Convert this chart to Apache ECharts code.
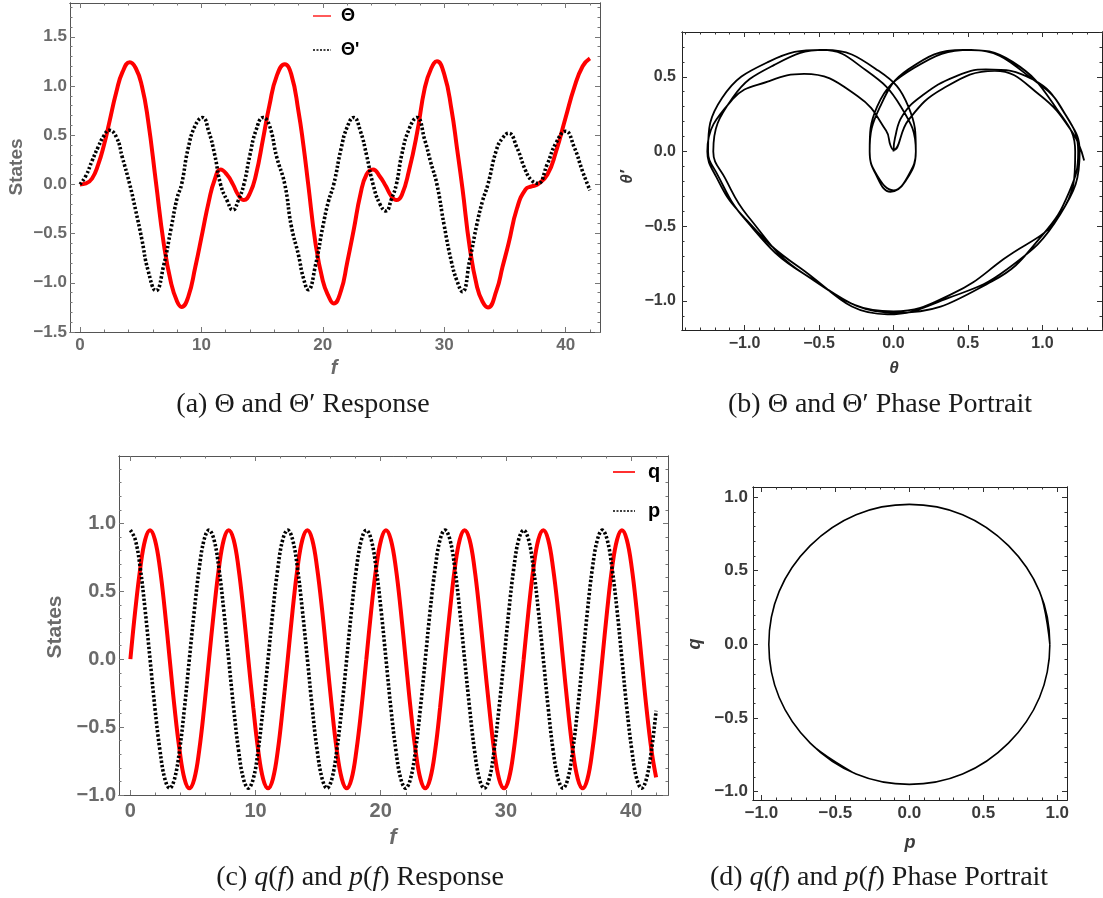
<!DOCTYPE html>
<html><head><meta charset="utf-8">
<script src="https://cdn.jsdelivr.net/npm/echarts@6/dist/echarts.min.js"></script>
<style>html,body{margin:0;padding:0;background:#fff}#c{width:1103px;height:898px}</style>
</head><body><div id="c"></div>
<script>
// Panel (a)/(b): sample positions f and Θ(f), Θ'(f)
const fA = [0, 0.5, 1.0, 1.5, 2.0, 2.4, 3.0, 3.5, 4.1, 4.6, 5.1, 5.6, 6.26, 6.9, 7.5, 8.0, 8.37, 8.9, 9.5, 10.1,
  10.6, 11.1, 11.58, 12.1, 12.6, 13.05, 13.5, 14.0, 14.5, 15.09, 15.6, 16.2, 16.87, 17.4, 18.0, 18.4, 18.8, 19.4, 20.0, 20.45,
  20.9, 21.5, 22.0, 22.55, 23.1, 23.6, 24.14, 24.7, 25.2, 25.65, 26.06, 26.5, 27.1, 27.76, 28.4, 28.9, 29.4, 30.0, 30.6, 31.05,
  31.5, 32.1, 32.7, 33.15, 33.6, 34.3, 34.8, 35.3, 36.0, 36.7, 37.2, 37.7, 38.5, 39.2, 40.0, 40.7, 41.4, 42.0];
const theta = [0.00, 0.01, 0.06, 0.20, 0.41, 0.62, 0.94, 1.14, 1.24, 1.18, 1.00, 0.66, 0.02, -0.60, -1.00, -1.19, -1.245, -1.15, -0.84, -0.48,
  -0.18, 0.05, 0.15, 0.10, 0.00, -0.11, -0.16, -0.09, 0.10, 0.47, 0.80, 1.10, 1.22, 1.12, 0.74, 0.40, 0.00, -0.60, -0.98, -1.13,
  -1.21, -1.08, -0.80, -0.46, -0.10, 0.10, 0.15, 0.08, -0.02, -0.12, -0.16, -0.11, 0.14, 0.52, 0.98, 1.17, 1.25, 1.12, 0.76, 0.37,
  -0.04, -0.64, -1.04, -1.19, -1.25, -1.08, -0.84, -0.60, -0.24, -0.05, -0.02, 0.00, 0.10, 0.33, 0.68, 0.98, 1.20, 1.28];
const thetaPrime = [0.00, 0.09, 0.24, 0.38, 0.50, 0.55, 0.48, 0.27, 0.00, -0.27, -0.56, -0.87, -1.08, -0.82, -0.45, -0.14, 0.00, 0.36, 0.60, 0.68,
  0.54, 0.30, 0.00, -0.16, -0.26, -0.16, 0.00, 0.30, 0.55, 0.68, 0.60, 0.28, 0.00, -0.42, -0.72, -0.95, -1.07, -0.82, -0.43, -0.18,
  0.00, 0.36, 0.58, 0.68, 0.54, 0.30, 0.00, -0.20, -0.27, -0.15, 0.00, 0.30, 0.56, 0.68, 0.45, 0.22, 0.00, -0.42, -0.79, -0.98,
  -1.09, -0.77, -0.40, -0.17, 0.00, 0.35, 0.47, 0.52, 0.37, 0.14, 0.04, 0.01, 0.21, 0.42, 0.54, 0.38, 0.13, -0.06];

// Panel (c)/(d): sample positions f and q(f), p(f)
const fC = [
  0, 0.39, 0.79, 1.18, 1.57, 1.96, 2.36, 2.75, 3.14, 3.53, 3.93, 4.32, 4.71, 5.11, 5.50, 5.89,
  6.28, 6.68, 7.07, 7.46, 7.85, 8.25, 8.64, 9.03, 9.42, 9.82, 10.21, 10.60, 11.00, 11.39, 11.78, 12.17,
  12.57, 12.96, 13.35, 13.74, 14.14, 14.53, 14.92, 15.32, 15.71, 16.10, 16.49, 16.89, 17.28, 17.67, 18.06, 18.46,
  18.85, 19.24, 19.63, 20.03, 20.42, 20.81, 21.21, 21.60, 21.99, 22.38, 22.78, 23.17, 23.56, 23.95, 24.35, 24.74,
  25.13, 25.53, 25.92, 26.31, 26.70, 27.10, 27.49, 27.88, 28.27, 28.67, 29.06, 29.45, 29.85, 30.24, 30.63, 31.02,
  31.42, 31.81, 32.20, 32.59, 32.99, 33.38, 33.77, 34.17, 34.56, 34.95, 35.34, 35.74, 36.13, 36.52, 36.91, 37.31,
  37.70, 38.09, 38.48, 38.88, 39.27, 39.66, 40.06, 40.45, 40.84, 41.23, 41.63, 42.0];
const qVals = [
  0, 0.36, 0.67, 0.88, 0.95, 0.88, 0.67, 0.36, 0, -0.36, -0.67, -0.88, -0.95, -0.88, -0.67, -0.36,
  0, 0.36, 0.67, 0.88, 0.95, 0.88, 0.67, 0.36, 0, -0.36, -0.67, -0.88, -0.95, -0.88, -0.67, -0.36,
  0, 0.36, 0.67, 0.88, 0.95, 0.88, 0.67, 0.36, 0, -0.36, -0.67, -0.88, -0.95, -0.88, -0.67, -0.36,
  0, 0.36, 0.67, 0.88, 0.95, 0.88, 0.67, 0.36, 0, -0.36, -0.67, -0.88, -0.95, -0.88, -0.67, -0.36,
  0, 0.36, 0.67, 0.88, 0.95, 0.88, 0.67, 0.36, 0, -0.36, -0.67, -0.88, -0.95, -0.88, -0.67, -0.36,
  0, 0.36, 0.67, 0.88, 0.95, 0.88, 0.67, 0.36, 0, -0.36, -0.67, -0.88, -0.95, -0.88, -0.67, -0.36,
  0, 0.36, 0.67, 0.88, 0.95, 0.88, 0.67, 0.36, 0, -0.36, -0.67, -0.87];
const pVals = [
  0.95, 0.88, 0.67, 0.36, 0, -0.36, -0.67, -0.88, -0.95, -0.88, -0.67, -0.36, 0, 0.36, 0.67, 0.88,
  0.95, 0.88, 0.67, 0.36, 0, -0.36, -0.67, -0.88, -0.95, -0.88, -0.67, -0.36, 0, 0.36, 0.67, 0.88,
  0.95, 0.88, 0.67, 0.36, 0, -0.36, -0.67, -0.88, -0.95, -0.88, -0.67, -0.36, 0, 0.36, 0.67, 0.88,
  0.95, 0.88, 0.67, 0.36, 0, -0.36, -0.67, -0.88, -0.95, -0.88, -0.67, -0.36, 0, 0.36, 0.67, 0.88,
  0.95, 0.88, 0.67, 0.36, 0, -0.36, -0.67, -0.88, -0.95, -0.88, -0.67, -0.36, 0, 0.36, 0.67, 0.88,
  0.95, 0.88, 0.67, 0.36, 0, -0.36, -0.67, -0.88, -0.95, -0.88, -0.67, -0.36, 0, 0.36, 0.67, 0.88,
  0.95, 0.88, 0.67, 0.36, 0, -0.36, -0.67, -0.88, -0.95, -0.88, -0.67, -0.38];

// tick labels
const aXTicks = [0, 10, 20, 30, 40];
const aYTicks = [-1.5, -1.0, -0.5, 0, 0.5, 1.0, 1.5];
const bXTicks = [-1.0, -0.5, 0, 0.5, 1.0];
const bYTicks = [-1.0, -0.5, 0, 0.5];
const cXTicks = [0, 10, 20, 30, 40];
const cYTicks = [-1.0, -0.5, 0, 0.5, 1.0];
const dXTicks = [-1.0, -0.5, 0, 0.5, 1.0];
const dYTicks = [-1.0, -0.5, 0, 0.5, 1.0];

const zip = (a, b) => a.map((v, i) => [v, b[i]]);

function frame(g, dim, min, max, majors, minorStep, st) {
  const minors = [];
  for (let k = Math.ceil(min / minorStep - 1e-9); k * minorStep <= max + 1e-9; k++) minors.push(+(k * minorStep).toFixed(6));
  const sides = dim === 'x' ? ['bottom', 'top'] : ['left', 'right'];
  const fmt = v => (st.dec ? Number(v).toFixed(st.dec) : String(Math.round(v))).replace('-', '\u2212');
  const base = () => ({
    type: 'value', gridIndex: g, min: min, max: max, silent: true,
    splitLine: {show: false},
    axisLine: {show: true, onZero: false, lineStyle: {color: st.line, width: 1}}
  });
  const out = [];
  sides.forEach((pos, i) => {
    out.push(Object.assign(base(), {
      position: pos,
      axisTick: {show: true, inside: true, length: 5, customValues: majors, lineStyle: {color: st.tick}},
      axisLabel: i === 0 ? {show: true, customValues: majors, formatter: fmt, color: st.label,
        fontFamily: 'Liberation Sans', fontWeight: 'bold', fontSize: st.fs, margin: st.margin} : {show: false}
    }));
    out.push(Object.assign(base(), {
      position: pos,
      axisTick: {show: true, inside: true, length: 2.5, customValues: minors, lineStyle: {color: st.tick}},
      axisLabel: {show: false}
    }));
  });
  return out;
}

const greyA = {line: '#555', tick: '#777', label: '#6a6a6a'};
const dark = {line: '#222', tick: '#333', label: '#3a3a3a'};

const xAxis = [].concat(
  frame(0, 'x', -0.82, 42.83, aXTicks, 2, Object.assign({fs: 17, dec: 0, margin: 5}, greyA)),
  frame(1, 'x', -1.42, 1.40, bXTicks, 0.1, Object.assign({fs: 16, dec: 1, margin: 6}, dark)),
  frame(2, 'x', -0.91, 42.95, cXTicks, 2, Object.assign({fs: 20, dec: 0, margin: 6}, greyA)),
  frame(3, 'x', -1.057, 1.066, dXTicks, 0.1, Object.assign({fs: 17, dec: 1, margin: 5}, dark))
);
const yAxis = [].concat(
  frame(0, 'y', -1.5, 1.843, aYTicks, 0.1, Object.assign({fs: 17, dec: 1, margin: 3}, greyA)),
  frame(1, 'y', -1.195, 0.80, bYTicks, 0.1, Object.assign({fs: 16, dec: 1, margin: 6}, dark)),
  frame(2, 'y', -1.0, 1.496, cYTicks, 0.1, Object.assign({fs: 20, dec: 1, margin: 3}, greyA)),
  frame(3, 'y', -1.056, 1.068, dYTicks, 0.1, Object.assign({fs: 17, dec: 1, margin: 5}, dark))
);

const serif = '"Liberation Serif", "DejaVu Serif", serif';
const rich = {
  n: {fontFamily: serif, fontSize: 28, fill: '#1a1a1a'},
  i: {fontFamily: serif, fontSize: 28, fontStyle: 'italic', fill: '#1a1a1a'}
};
function caption(x, y, text) {
  return {type: 'text', x: x, y: y, silent: true,
    style: {text: text, rich: rich, align: 'center', verticalAlign: 'middle'}};
}
function axName(x, y, text, size, color, italic, rot) {
  return {type: 'text', x: x, y: y, rotation: rot ? Math.PI / 2 : 0, silent: true,
    style: {text: text, fontFamily: 'Liberation Sans', fontWeight: 'bold', fontStyle: italic ? 'italic' : 'normal',
      fontSize: size, fill: color, align: 'center', verticalAlign: 'middle'}};
}

const hideSym = {color: 'rgba(0,0,0,0)', borderWidth: 0, opacity: 0};
const legendText = {fontFamily: 'Liberation Sans', fontWeight: 'bold', fontSize: 18, color: '#000', lineHeight: 20, padding: [0, 0, 0, 5]};

const option = {
  animation: false,
  backgroundColor: '#fff',
  grid: [
    {left: 70, top: 3, width: 530, height: 329, outerBoundsMode: 'none'},
    {left: 682, top: 32, width: 420, height: 298, outerBoundsMode: 'none'},
    {left: 119, top: 456, width: 549, height: 339, outerBoundsMode: 'none'},
    {left: 753, top: 487, width: 314, height: 313, outerBoundsMode: 'none'}
  ],
  xAxis: xAxis,
  yAxis: yAxis,
  legend: [
    {left: 312, top: 6, padding: 0, orient: 'vertical', itemWidth: 18, itemHeight: 14, itemGap: 14, selectedMode: false,
      itemStyle: hideSym,
      data: [{name: 'Θ', lineStyle: {width: 2, color: '#ff5a5a'}, itemStyle: hideSym},
             {name: "Θ'", lineStyle: {width: 1.5, type: [2, 1.5], color: '#000'}, itemStyle: hideSym}],
      textStyle: legendText},
    {left: 612, top: 462, padding: 0, orient: 'vertical', itemWidth: 22, itemHeight: 14, itemGap: 19, selectedMode: false,
      itemStyle: hideSym,
      data: [{name: 'q', lineStyle: {width: 2, color: '#ff3030'}, itemStyle: hideSym},
             {name: 'p', lineStyle: {width: 1.5, type: [2, 1.5], color: '#000'}, itemStyle: hideSym}],
      textStyle: Object.assign({}, legendText, {fontSize: 20, padding: [0, 0, 0, 8]})}
  ],
  series: [
    {name: 'Θ', type: 'line', xAxisIndex: 0, yAxisIndex: 0, data: zip(fA, theta), smooth: 0.5, symbol: 'none', showSymbol: false,
      lineStyle: {color: '#ff0000', width: 4}, itemStyle: {color: '#ff0000'}},
    {name: "Θ'", type: 'line', xAxisIndex: 0, yAxisIndex: 0, data: zip(fA, thetaPrime), smooth: 0.5, symbol: 'none', showSymbol: false,
      lineStyle: {color: '#000', width: 3.6, type: [2.4, 2]}, itemStyle: {color: '#000'}},
    {name: 'phaseTheta', type: 'line', xAxisIndex: 4, yAxisIndex: 4, data: zip(theta, thetaPrime), smooth: 0.45, symbol: 'none', showSymbol: false,
      lineStyle: {color: '#000', width: 1.8}},
    {name: 'q', type: 'line', xAxisIndex: 8, yAxisIndex: 8, data: zip(fC, qVals), smooth: 0.4, symbol: 'none', showSymbol: false,
      lineStyle: {color: '#ff0000', width: 4}, itemStyle: {color: '#ff0000'}},
    {name: 'p', type: 'line', xAxisIndex: 8, yAxisIndex: 8, data: zip(fC, pVals), smooth: 0.4, symbol: 'none', showSymbol: false,
      lineStyle: {color: '#000', width: 3.6, type: [2.4, 2]}, itemStyle: {color: '#000'}},
    {name: 'phasePQ', type: 'line', xAxisIndex: 12, yAxisIndex: 12, data: zip(pVals, qVals), smooth: 0.34, symbol: 'none', showSymbol: false,
      lineStyle: {color: '#000', width: 1.6}}
  ],
  graphic: [
    axName(17, 167, 'States', 19, '#6a6a6a', false, true),
    axName(334, 368, 'f', 20, '#6a6a6a', true, false),
    axName(894, 368, 'θ', 17, '#3a3a3a', true, false),
    axName(627, 177, 'θ′', 17, '#3a3a3a', true, true),
    axName(55, 627, 'States', 21, '#6a6a6a', false, true),
    axName(393, 838, 'f', 22, '#6a6a6a', true, false),
    axName(910, 843, 'p', 18, '#3a3a3a', true, false),
    axName(695, 644, 'q', 18, '#3a3a3a', true, true),
    caption(303, 405, '{n|(a) Θ and Θ′ Response}'),
    caption(880, 405, '{n|(b) Θ and Θ′ Phase Portrait}'),
    caption(360, 878, '{n|(c) }{i|q}{n|(}{i|f}{n|) and }{i|p}{n|(}{i|f}{n|) Response}'),
    caption(879, 878, '{n|(d) }{i|q}{n|(}{i|f}{n|) and }{i|p}{n|(}{i|f}{n|) Phase Portrait}')
  ]
};
const chart = echarts.init(document.getElementById('c'), null, {renderer: 'canvas'});
chart.setOption(option);
</script>
</body></html>
